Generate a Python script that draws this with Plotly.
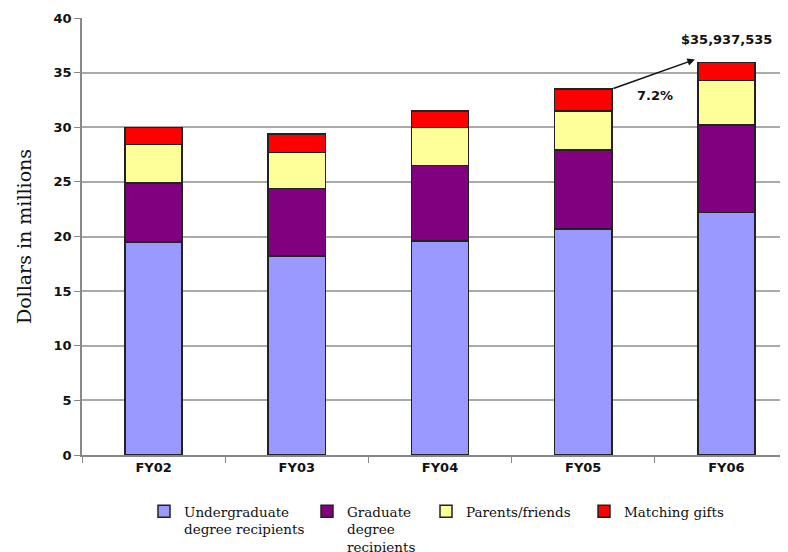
import plotly.graph_objects as go

categories = ["FY02", "FY03", "FY04", "FY05", "FY06"]
undergrad = [19.5, 18.2, 19.6, 20.7, 22.2]
graduate = [5.4, 6.2, 6.9, 7.2, 8.0]
parents = [3.5, 3.3, 3.5, 3.6, 4.1]
matching = [1.6, 1.7, 1.5, 2.0, 1.64]
series_names = ["Undergraduate<br>degree recipients", "Graduate<br>degree<br>recipients",
                "Parents/friends", "Matching gifts"]
colors = ["#9999FF", "#800080", "#FFFF99", "#FF0000"]
y_ticks = [0, 5, 10, 15, 20, 25, 30, 35, 40]

# page body has an 8px margin, so figure coordinates = window coordinates - 8
OFF = 8
W, H = 788, 552
ML, MR, MT, MB = 82 - OFF, OFF, 18 - OFF, H - (455 - OFF)
pw = W - ML - MR
ph = H - MT - MB

legend_ids = ["legend", "legend2", "legend3", "legend4"]
text_left_px = [184, 347, 466, 624]

fig = go.Figure()
for name, vals, col, lid in zip(series_names, [undergrad, graduate, parents, matching], colors, legend_ids):
    fig.add_trace(go.Bar(
        x=categories, y=vals, name=name, width=0.4, legend=lid,
        marker=dict(color=col, line=dict(color="#222222", width=1.5)),
    ))

total_fy06 = sum(s[4] for s in [undergrad, graduate, parents, matching])
total_fy05 = sum(s[3] for s in [undergrad, graduate, parents, matching])

fig.add_annotation(x=3.78, y=36.2, ax=3.2, ay=total_fy05, xref="x", yref="y",
                   axref="x", ayref="y", showarrow=True, arrowhead=2, arrowsize=1,
                   arrowwidth=1.5, arrowcolor="#111111", text="")
fig.add_annotation(x=3.5, y=32.9, xref="x", yref="y", text="<b>7.2%</b>",
                   showarrow=False, font=dict(family="DejaVu Sans", size=13, color="#111111"))
fig.add_annotation(x=4.0, y=total_fy06 + 2.1, xref="x", yref="y", text="<b>$35,937,535</b>",
                   showarrow=False, font=dict(family="DejaVu Sans", size=13, color="#111111"))

legend_font = dict(family="DejaVu Serif", size=13.5, color="#111111")
leg_layout = {}
for lid, tx in zip(legend_ids, text_left_px):
    leg_layout[lid] = dict(x=(tx - OFF - 40 - ML) / pw, y=-41 / ph, xanchor="left", yanchor="top",
                           valign="top", font=legend_font, bgcolor="rgba(0,0,0,0)")

fig.update_layout(
    barmode="stack",
    width=W, height=H,
    margin=dict(l=ML, r=MR, t=MT, b=MB, autoexpand=False),
    paper_bgcolor="white", plot_bgcolor="white",
    showlegend=True,
    xaxis=dict(range=[-0.5, 4.43], showline=True, linecolor="#888888", linewidth=1.5,
               ticks="outside", tickson="boundaries", ticklen=6, tickcolor="#888888",
               automargin=False,
               tickfont=dict(family="DejaVu Sans", size=13, color="#111111", weight="bold")),
    yaxis=dict(range=[0, 40], tickvals=y_ticks, showgrid=True, gridcolor="#AAAAAA",
               gridwidth=1.5, showline=True, linecolor="#888888", linewidth=1.5,
               ticks="outside", ticklen=6, tickcolor="#888888", automargin=False,
               tickfont=dict(family="DejaVu Sans", size=13, color="#111111", weight="bold"),
               title=dict(text="Dollars in millions", standoff=17,
                          font=dict(family="DejaVu Serif", size=19, color="#111111"))),
    **leg_layout,
)

fig.write_html("out.html")
